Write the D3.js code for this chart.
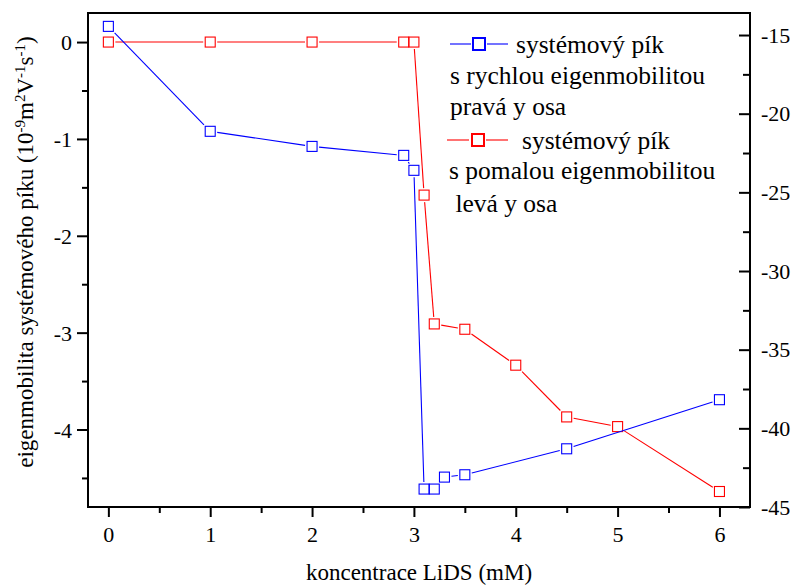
<!DOCTYPE html>
<html><head><meta charset="utf-8">
<script src="https://cdn.jsdelivr.net/npm/d3@7"></script>
<style>body{margin:0;background:#fff}svg{display:block}svg text{font-family:"Liberation Serif","Times New Roman","DejaVu Serif",serif !important;fill:#000}</style>
</head><body>
<script>
const redX = [0, 1, 2, 2.9, 3.0, 3.1, 3.2, 3.5, 4, 4.5, 5, 6];
const redY = [0, 0, 0, 0, 0, -1.58, -2.91, -2.965, -3.336, -3.87, -3.97, -4.64];
const blueX = [0, 1, 2, 2.9, 3.0, 3.1, 3.2, 3.3, 3.5, 4.5, 6];
const blueY = [-14.45, -21.12, -22.08, -22.65, -23.6, -43.86, -43.86, -43.1, -42.95, -41.3, -38.18];
const xTicks = [0, 1, 2, 3, 4, 5, 6];
const leftTicks = [0, -1, -2, -3, -4];
const rightTicks = [-15, -20, -25, -30, -35, -40, -45];
const legendLines = [
  ["systémový pík", "s rychlou eigenmobilitou", "pravá y osa"],
  ["systémový pík", "s pomalou eigenmobilitou", " levá y osa"]
];

const W = 795, H = 588;
const L = 88, R = 750, T = 13, B = 507;
const FONT = '"Liberation Serif","Times New Roman","DejaVu Serif",serif';
const svg = d3.select("body").append("svg").attr("width", W).attr("height", H)
  .attr("font-family", FONT);
const x = d3.scaleLinear().domain([-0.2, 6.3]).range([L, R]);
const yL = d3.scaleLinear().domain([-4.8, 0.3]).range([B, T]);
const yR = d3.scaleLinear().domain([-45, -13.6]).range([B, T]);
const TFS = 22, LFS = 25.5, AFS = 23;
const fmt = d => String(d);

function clean(g) {
  g.selectAll(".domain").remove();
  g.selectAll("line").attr("stroke-width", 2);
  g.attr("font-family", FONT);
}

// bottom axis
const gxMinor = svg.append("g").attr("transform", `translate(0,${B})`)
  .call(d3.axisBottom(x).tickValues(d3.range(0.5, 6.01, 1)).tickSize(6).tickFormat(""));
clean(gxMinor);
const gx = svg.append("g").attr("transform", `translate(0,${B})`)
  .call(d3.axisBottom(x).tickValues(xTicks).tickSize(10).tickFormat(fmt));
clean(gx);
gx.selectAll("text").attr("font-size", TFS).attr("dy", null).attr("y", 34.5);

// left axis
const glMinor = svg.append("g").attr("transform", `translate(${L},0)`)
  .call(d3.axisLeft(yL).tickValues(d3.range(-4.5, 0, 1)).tickSize(6).tickFormat(""));
clean(glMinor);
const gl = svg.append("g").attr("transform", `translate(${L},0)`)
  .call(d3.axisLeft(yL).tickValues(leftTicks).tickSize(11).tickFormat(fmt));
clean(gl);
gl.selectAll("text").attr("font-size", TFS).attr("dy", null).attr("y", 7.5).attr("x", -16);

// right axis: ticks inward, labels outside
const grMinor = svg.append("g").attr("transform", `translate(${R},0)`)
  .call(d3.axisLeft(yR).tickValues(d3.range(-42.5, -14, 5)).tickSize(7).tickFormat(""));
clean(grMinor);
const grMajor = svg.append("g").attr("transform", `translate(${R},0)`)
  .call(d3.axisLeft(yR).tickValues(rightTicks).tickSize(11).tickFormat(""));
clean(grMajor);
const grLab = svg.append("g").attr("transform", `translate(${R},0)`)
  .call(d3.axisRight(yR).tickValues(rightTicks).tickSize(0).tickFormat(fmt));
clean(grLab);
grLab.selectAll("line").remove();
grLab.selectAll("text").attr("font-size", TFS).attr("dy", null).attr("y", 7).attr("x", 11);

// frame
svg.append("rect").attr("x", L).attr("y", T).attr("width", R - L).attr("height", B - T)
  .attr("fill", "none").attr("stroke", "#000").attr("stroke-width", 2);

// series with gapped lines
function drawSeries(xs, ys, yScale, color) {
  const pts = xs.map((d, i) => [x(d), yScale(ys[i])]);
  const h = 5, gap = 2;
  const segs = [];
  for (let i = 0; i < pts.length - 1; i++) {
    const [x1, y1] = pts[i], [x2, y2] = pts[i + 1];
    const dx = x2 - x1, dy = y2 - y1, len = Math.hypot(dx, dy);
    const ux = dx / len, uy = dy / len;
    const t = h / Math.max(Math.abs(ux), Math.abs(uy)) + gap;
    if (len > 2 * t + 1) segs.push([x1 + ux * t, y1 + uy * t, x2 - ux * t, y2 - uy * t]);
  }
  svg.append("g").selectAll("line").data(segs).join("line")
    .attr("x1", d => d[0]).attr("y1", d => d[1]).attr("x2", d => d[2]).attr("y2", d => d[3])
    .attr("stroke", color).attr("stroke-width", 1.1);
  svg.append("g").selectAll("rect").data(pts).join("rect")
    .attr("x", d => d[0] - h).attr("y", d => d[1] - h).attr("width", 2 * h).attr("height", 2 * h)
    .attr("fill", "none").attr("stroke", color).attr("stroke-width", 1.1);
}
drawSeries(redX, redY, yL, "#ff0000");
drawSeries(blueX, blueY, yR, "#0000ff");

// legend
function legendItem(cy, color, segs, sq, xs, baselines, lines) {
  segs.forEach(([a, b]) => svg.append("line").attr("x1", a).attr("x2", b).attr("y1", cy).attr("y2", cy)
    .attr("stroke", color).attr("stroke-width", 1.1));
  svg.append("rect").attr("x", sq).attr("y", cy - 6).attr("width", 12).attr("height", 12)
    .attr("fill", "none").attr("stroke", color).attr("stroke-width", 2);
  lines.forEach((s, i) => {
    svg.append("text").attr("x", xs[i]).attr("y", baselines[i])
      .attr("font-size", LFS).style("white-space", "pre").text(s);
  });
}
legendItem(44, "#0000ff", [[450, 471], [487, 508]], 473, [516, 450, 450], [52.5, 84, 115], legendLines[0]);
legendItem(140, "#ff0000", [[447, 469], [486, 508]], 472, [522, 449, 449], [148.5, 178.5, 211.5], legendLines[1]);

// axis titles
svg.append("text").attr("x", (L + R) / 2).attr("y", 580).attr("text-anchor", "middle")
  .attr("font-size", AFS).text("koncentrace LiDS (mM)");

const yt = svg.append("text").attr("transform", `translate(33,252) rotate(-90)`)
  .attr("text-anchor", "middle").attr("font-size", AFS);
const parts = [["eigenmobilita systémového píku (10", 0], ["-9", 1], ["m", 0], ["2", 1], ["V", 0], ["-1", 1], ["s", 0], ["-1", 1], [")", 0]];
parts.forEach(([s, sup]) => {
  yt.append("tspan").attr("baseline-shift", sup ? "super" : null).attr("font-size", sup ? 15 : AFS).text(s);
});
</script>
</body></html>
